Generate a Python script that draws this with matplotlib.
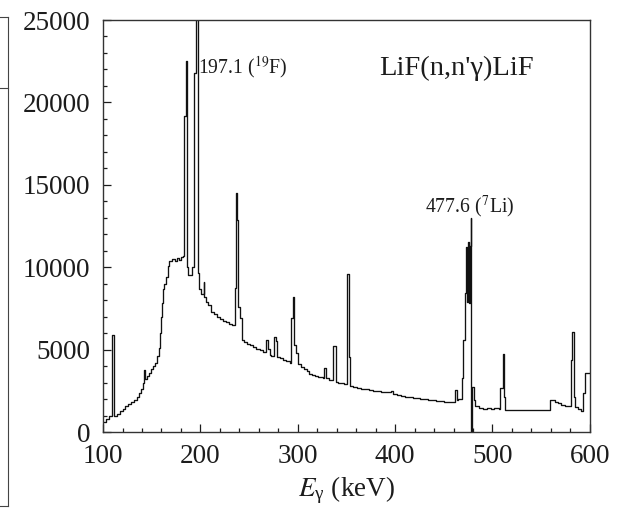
import matplotlib
matplotlib.use("Agg")
import matplotlib.pyplot as plt
from matplotlib.lines import Line2D
from matplotlib.ticker import MultipleLocator

plt.rcParams['font.family'] = ['Liberation Serif', 'DejaVu Serif']
plt.rcParams['mathtext.fontset'] = 'stix'

# gamma spectrum as step levels: energy (keV) where each level starts, counts
energy_kev = [
    100, 103, 106, 109, 111, 114, 117, 120, 123, 126, 129, 132, 135, 137, 139, 141,
    142, 143.5, 145, 147, 149, 151, 153, 155, 157, 158, 159.5, 160.5, 161.5, 163,
    165, 166.5, 168, 171, 174, 176, 178, 180, 182, 183.5, 185.5, 186.3, 187.5, 191,
    193.4, 195.5, 197.8, 199, 201, 203.2, 204.2, 206, 208, 211, 214, 217, 220, 223,
    226, 229, 232, 235.3, 236.8, 237.8, 239, 240.5, 242.4, 245, 248, 251, 254, 257,
    261, 264, 267.5, 269.5, 271.5, 273, 275.5, 277.6, 279, 282, 285, 288, 292,
    293.3, 294.6, 296.2, 298.5, 300.5, 303, 306, 309, 312, 315, 318, 321, 325.5,
    327, 329, 332, 336.5, 339, 341, 344, 347, 350.2, 351, 352.8, 354, 357, 361,
    365, 369, 373, 377, 381, 385, 389, 393, 395.5, 398, 402, 406, 410, 414, 418,
    422, 426, 430, 434, 438, 442, 446, 450, 454, 458, 461.5, 463.3, 465, 468.5,
    470, 471.5, 473, 474, 474.8, 475.6, 476.4, 477.6, 478.3, 479.2, 480.5, 482,
    486, 490, 494, 498, 502, 506.3, 507.8, 510.5, 511.5, 513, 518, 524, 530, 536,
    542, 548, 554, 559.5, 564, 567, 570, 574, 578, 580.3, 581.8, 583.8, 585, 588,
    591, 593, 595, 600,
]
counts = [
    600, 800, 950, 5900, 970, 1100, 1250, 1400, 1550, 1700, 1800, 1950, 2100, 2350, 2600, 3000,
    3750, 3200, 3400, 3600, 3800, 4000, 4200, 4600, 5100, 6000, 7000, 7800, 8700, 9000,
    9400, 10100, 10400, 10500, 10400, 10550, 10450, 10600, 10700, 19200, 22500, 10000, 9500, 10000,
    21800, 28000, 9650, 8700, 8400, 9100, 8200, 7900, 7700, 7300, 7150, 7000, 6850, 6750,
    6650, 6550, 6480, 8740, 14500, 12850, 7600, 6900, 5600, 5450, 5350, 5250, 5150, 5050,
    4950, 4870, 5580, 5050, 4700, 4600, 5760, 5500, 4570, 4470, 4370, 4280, 4190,
    6920, 8210, 5280, 4790, 4100, 3950, 3820, 3680, 3550, 3460, 3380, 3360, 3300,
    3880, 3280, 3180, 5220, 3050, 2980, 2950, 2900, 4570, 9570, 4570, 2790, 2720, 2680,
    2620, 2580, 2540, 2490, 2470, 2450, 2420, 2400, 2480, 2330, 2250, 2200, 2150, 2120, 2090,
    2060, 2020, 1980, 1950, 1920, 1890, 1870, 1850, 1840, 1800, 2550, 1950, 1980, 3280,
    5580, 8430, 11200, 7900, 11500, 7830, 11300, 13000, 0, 2750, 1940, 1550,
    1450, 1420, 1460, 1410, 1440, 1400, 2670, 4730, 2140, 1340, 1350, 1330, 1340, 1320,
    1340, 1330, 1340, 1940, 1850, 1760, 1650, 1560, 1600, 4370, 6090, 2140, 1540, 1400,
    1250, 2350, 3580, 3580,
]

peak_labels = [(197.8, 22150, r'197.1 ($^{19}$F)', 'left'),
               (477.0, 13650, r'477.6 ($^{7}$Li)', 'center')]
reaction = "LiF(n,n'γ)LiF"

fig = plt.figure(figsize=(6.17, 5.08), dpi=100)
ax = fig.add_axes([0.167, 0.1496, 0.789, 0.811])

ax.step(energy_kev, counts, where='post', color='#111111', lw=0.95)

ax.set_xlim(100, 600)
ax.set_ylim(0, 25000)
ax.xaxis.set_major_locator(MultipleLocator(100))
ax.xaxis.set_minor_locator(MultipleLocator(20))
ax.yaxis.set_major_locator(MultipleLocator(5000))
ax.yaxis.set_minor_locator(MultipleLocator(1000))
ax.tick_params(which='both', direction='in', top=False, right=False,
               labelsize=19.5, colors='#1c1c1c', width=0.9)
ax.tick_params(which='major', length=5.5)
ax.tick_params(which='minor', length=3)
ax.tick_params(axis='y', pad=9)
ax.tick_params(axis='x', pad=8.5)
for s in ax.spines.values():
    s.set_linewidth(1.0)
    s.set_color('#333333')

ax.set_xlabel(r'$E_{\mathregular{γ}}$ (keV)', fontsize=19.5, color='#1c1c1c', labelpad=4)

for x, y, txt, ha in peak_labels:
    ax.text(x, y, txt, fontsize=14.2, ha=ha, va='center', color='#1c1c1c')
ax.text(0.727, 0.883, reaction, transform=ax.transAxes, fontsize=20.5,
        ha='center', va='center', color='#1c1c1c')

# edge of the neighbouring panel
xe = 8 / 617
for y0 in (1 - 17 / 508, 1 - 88 / 508, 1 - 506 / 508):
    fig.add_artist(Line2D([0, xe], [y0, y0], transform=fig.transFigure, color='#444444', lw=0.8))
fig.add_artist(Line2D([xe, xe], [1 - 17 / 508, 1 - 506 / 508], transform=fig.transFigure,
                      color='#444444', lw=0.8))

fig.savefig('out.png', dpi=100)
